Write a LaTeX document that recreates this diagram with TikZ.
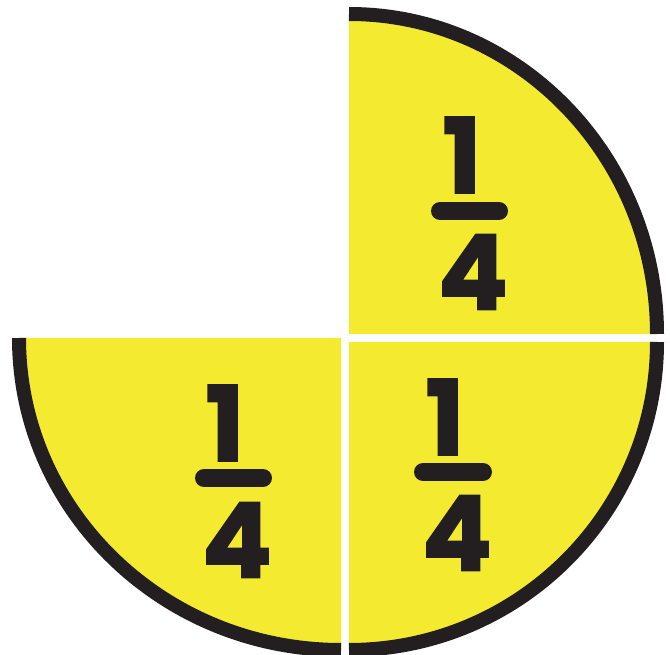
\documentclass[tikz,border=0pt]{standalone}
\usepackage{fontspec}
\newfontfamily\digitfont{Poppins}[BoldFeatures={FakeBold=1.6}]
\usetikzlibrary{positioning}
\definecolor{pieyellow}{RGB}{244,235,48}
\definecolor{pieblack}{RGB}{35,31,32}
\begin{document}
\begin{tikzpicture}[
    x=1pt, y=-1pt,
    quarter/.style={fill=pieyellow, draw=none},
    rim/.style={draw=pieblack, line width=14pt, line cap=butt},
    fracbar/.style={draw=pieblack, line width=18pt, line cap=round},
    digit/.style={text=pieblack, inner sep=0pt, font=\digitfont\bfseries\fontsize{104}{104}\selectfont}
]
\useasboundingbox (0,0) rectangle (670,655);

% top right quarter
\fill[quarter] (349,334) -- (349,14) arc[start angle=-90, end angle=0, x radius=308, y radius=320] -- cycle;
\draw[rim] (349,14) arc[start angle=-90, end angle=0, x radius=308, y radius=320];

% bottom right quarter
\fill[quarter] (349,342) -- (657,342) arc[start angle=0, end angle=90, x radius=308, y radius=308] -- cycle;
\draw[rim] (657,342) arc[start angle=0, end angle=90, x radius=308, y radius=308];

% bottom left quarter
\fill[quarter] (341,338) -- (341,650) arc[start angle=90, end angle=180, x radius=322, y radius=312] -- cycle;
\draw[rim] (341,650) arc[start angle=90, end angle=180, x radius=322, y radius=312];

% fractions
\node[digit] (numTR) at (462,155) {1};
\node[digit] (denTR) at (473,272) {4};
\coordinate (barTRa) at (440,211);
\coordinate (barTRb) at (499,211);
\draw[fracbar] (barTRa) -- (barTRb);

\node[digit] (numBR) at (445,417) {1};
\node[digit] (denBR) at (457,533) {4};
\coordinate (barBRa) at (423,472);
\coordinate (barBRb) at (483,472);
\draw[fracbar] (barBRa) -- (barBRb);

\node[digit] (numBL) at (225,423) {1};
\node[digit] (denBL) at (237,540) {4};
\coordinate (barBLa) at (204,478);
\coordinate (barBLb) at (263,478);
\draw[fracbar] (barBLa) -- (barBLb);
\end{tikzpicture}
\end{document}
